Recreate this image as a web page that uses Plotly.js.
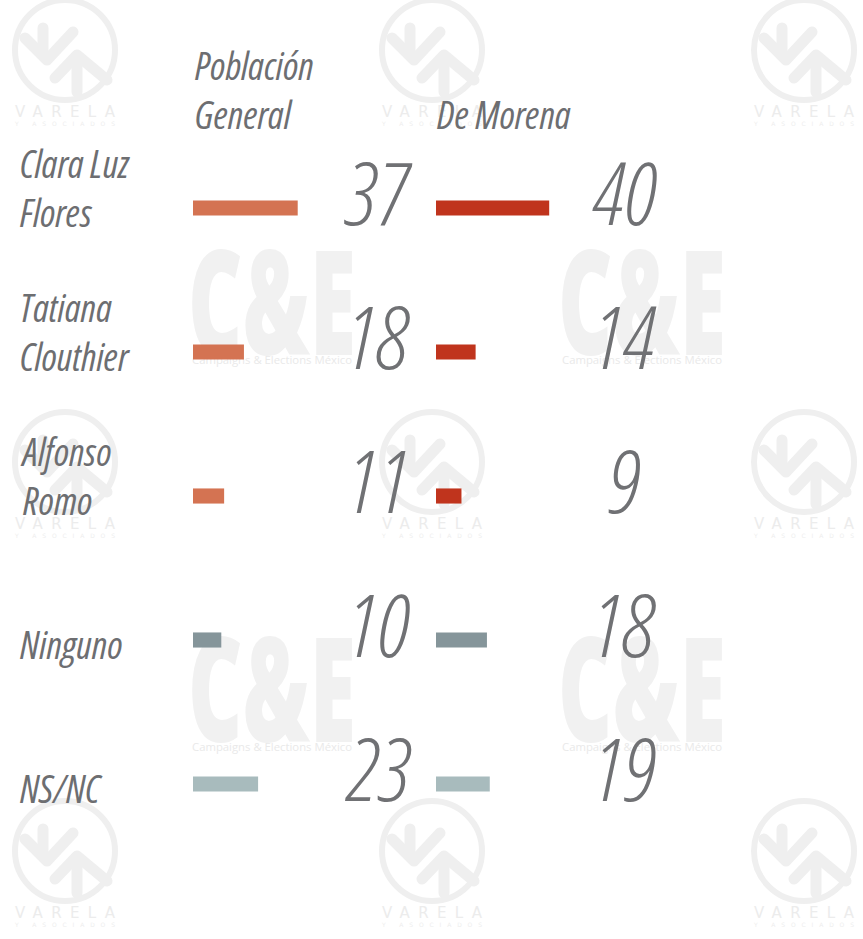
<!DOCTYPE html>
<html><head><meta charset="utf-8">
<script src="https://cdn.plot.ly/plotly-3.0.1.min.js"></script>
<style>html,body{margin:0;padding:0;background:#fff;overflow:hidden} text{font-stretch:75%;}</style>
</head><body><div id="chart" style="width:863px;height:939px"></div>
<script>
// ---- data ----
const categories = ["Clara Luz<br>Flores", "Tatiana<br>Clouthier", "Alfonso<br>Romo", "Ninguno", "NS/NC"];
const seriesNames = ["Población<br>General", "De Morena"];
const poblacionGeneral = [37, 18, 11, 10, 23];
const deMorena = [40, 14, 9, 18, 19];
const colorsGeneral = ["#D47352", "#D47352", "#D47352", "#85959A", "#A8BBBD"];
const colorsMorena = ["#C0341D", "#C0341D", "#C0341D", "#85959A", "#A8BBBD"];

// ---- layout helpers ----
const W = 863, H = 939, T = 136, B = 83;
const PH = H - T - B;
const pyToPaper = py => 1 - (py - T) / PH;
const FONT = '"Open Sans", sans-serif';
const TXT = '#6d6e71';

// watermark as background svg image
function wmSvg() {
  let s = `<svg xmlns="http://www.w3.org/2000/svg" width="${W}" height="${H}">`;
  [[188,355],[558,355],[188,742],[558,742]].forEach(([x, y]) => {
    s += `<text x="${x}" y="${y}" font-family="Open Sans, sans-serif" font-weight="800" font-size="145" fill="#f1f1f1" textLength="168" lengthAdjust="spacingAndGlyphs">C&amp;E</text>`;
    s += `<text x="${x + 4}" y="${y + 9}" font-family="Open Sans, sans-serif" font-size="10.5" fill="#e9e9e9" textLength="160" lengthAdjust="spacingAndGlyphs">Campaigns &amp; Elections México</text>`;
  });
  [[65, 50], [432, 50], [804, 50], [65, 462], [432, 462], [804, 462], [65, 851], [432, 851], [804, 851]].forEach(([cx, cy]) => {
    s += `<circle cx="${cx}" cy="${cy}" r="50" fill="none" stroke="#efefef" stroke-width="6"/>`;
    s += `<path d="M${cx-40},${cy-12} L${cx-18},${cy+10} L${cx+8},${cy-18}" fill="none" stroke="#efefef" stroke-width="11" stroke-linecap="round" stroke-linejoin="round"/>`;
    s += `<path d="M${cx-22},${cy-22} L${cx-22},${cy+5}" fill="none" stroke="#efefef" stroke-width="11" stroke-linecap="round"/>`;
    s += `<path d="M${cx-10},${cy+28} L${cx+12},${cy+5} L${cx+42},${cy+30}" fill="none" stroke="#efefef" stroke-width="11" stroke-linecap="round" stroke-linejoin="round"/>`;
    s += `<path d="M${cx+12},${cy+10} L${cx+12},${cy+42}" fill="none" stroke="#efefef" stroke-width="11" stroke-linecap="round"/>`;
    s += `<text x="${cx - 50}" y="${cy + 67}" font-family="DejaVu Sans, sans-serif" font-size="15" fill="#ececec" textLength="100" lengthAdjust="spacing">VARELA</text>`;
    s += `<text x="${cx - 50}" y="${cy + 76}" font-family="DejaVu Sans, sans-serif" font-size="6" fill="#eeeeee" textLength="100" lengthAdjust="spacing">Y ASOCIADOS</text>`;
  });
  s += `</svg>`;
  return 'data:image/svg+xml;charset=utf-8,' + encodeURIComponent(s);
}

const x1Dom = [193 / W, 420 / W];
const x2Dom = [436 / W, 663 / W];
const pxPerUnit = 2.83;
const xr = [0, (420 - 193) / pxPerUnit];

const traces = [
  { type: 'bar', orientation: 'h', name: seriesNames[0], y: categories, x: poblacionGeneral,
    marker: { color: colorsGeneral }, width: 0.105, xaxis: 'x', yaxis: 'y', hoverinfo: 'skip' },
  { type: 'bar', orientation: 'h', name: seriesNames[1], y: categories, x: deMorena,
    marker: { color: colorsMorena }, width: 0.105, xaxis: 'x2', yaxis: 'y', hoverinfo: 'skip' }
];

const annotations = [];
const labelFont = { family: FONT, size: 38, color: TXT, style: 'italic', weight: 400 };
const valueFont = { family: FONT, size: 87, color: '#707174', style: 'italic', weight: 300 };

categories.forEach((c, i) => {
  const nLines = c.split('<br>').length;
  annotations.push({ xref: 'paper', yref: 'y', x: 18 / W, y: c, xanchor: 'left', yanchor: 'middle', align: 'left',
    text: c, showarrow: false, font: labelFont, yshift: nLines > 1 ? 21 : -4 });
  annotations.push({ xref: 'paper', yref: 'y', x: 378 / W, y: c, xanchor: 'center', yanchor: 'middle',
    text: String(poblacionGeneral[i]), showarrow: false, font: valueFont, yshift: 17 });
  annotations.push({ xref: 'paper', yref: 'y', x: 624 / W, y: c, xanchor: 'center', yanchor: 'middle',
    text: String(deMorena[i]), showarrow: false, font: valueFont, yshift: 17 });
});

// series headers
const headerX = [193 / W, 435 / W];
seriesNames.forEach((s, k) => {
  const nLines = s.split('<br>').length;
  const py = nLines > 1 ? 89 : 114;
  annotations.push({ xref: 'paper', yref: 'paper', x: headerX[k], y: pyToPaper(py), xanchor: 'left', yanchor: 'middle', align: 'left',
    text: s, showarrow: false, font: labelFont });
});

const layout = {
  width: W, height: H,
  margin: { l: 0, r: 0, t: T, b: B, pad: 0 },
  paper_bgcolor: '#ffffff', plot_bgcolor: 'rgba(0,0,0,0)',
  showlegend: false,
  xaxis: { domain: x1Dom, range: xr, visible: false, fixedrange: true },
  xaxis2: { domain: x2Dom, range: xr, visible: false, fixedrange: true, anchor: 'y' },
  yaxis: { type: 'category', range: [categories.length - 0.5, -0.5], visible: false, fixedrange: true },
  annotations: annotations,
  images: [{ source: wmSvg(), xref: 'paper', yref: 'paper', x: 0, y: 1 + T / PH, sizex: 1, sizey: H / PH,
    xanchor: 'left', yanchor: 'top', sizing: 'stretch', layer: 'below' }]
};

Plotly.newPlot('chart', traces, layout, { displayModeBar: false, staticPlot: true });
</script>
</body></html>
